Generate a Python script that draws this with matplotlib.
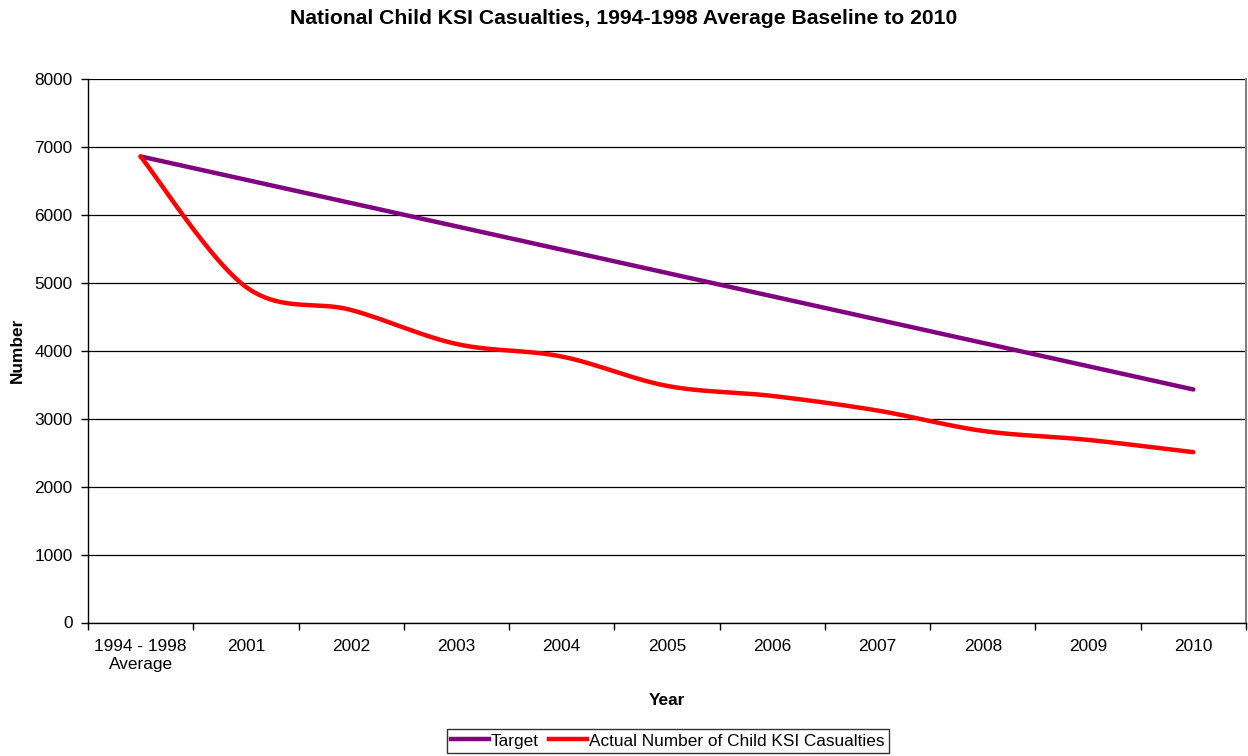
import numpy as np
import matplotlib
matplotlib.use("Agg")
import matplotlib.pyplot as plt
from matplotlib.lines import Line2D

plt.rcParams['font.family'] = ['Liberation Sans', 'DejaVu Sans']

categories = ["1994 - 1998\nAverage", "2001", "2002", "2003", "2004", "2005",
              "2006", "2007", "2008", "2009", "2010"]
target = [6860, 6517, 6174, 5831, 5488, 5145, 4802, 4459, 4116, 3773, 3430]
actual = [6860, 4940, 4600, 4100, 3915, 3483, 3335, 3120, 2820, 2688, 2507]
y_ticks = [0, 1000, 2000, 3000, 4000, 5000, 6000, 7000, 8000]


def smooth(xs, ys, n=40):
    """Excel-style smoothed line: cubic Bezier segments with 1/6 tangents."""
    xs = np.asarray(xs, float)
    ys = np.asarray(ys, float)
    pts = np.column_stack([xs, ys])
    out = [pts[0]]
    t = np.linspace(0, 1, n)[1:, None]
    for i in range(len(pts) - 1):
        p0 = pts[i - 1] if i > 0 else pts[i]
        p1, p2 = pts[i], pts[i + 1]
        p3 = pts[i + 2] if i + 2 < len(pts) else pts[i + 1]
        c1 = p1 + (p2 - p0) / 6.0
        c2 = p2 - (p3 - p1) / 6.0
        seg = ((1 - t) ** 3) * p1 + 3 * ((1 - t) ** 2) * t * c1 \
            + 3 * (1 - t) * t ** 2 * c2 + t ** 3 * p2
        out.extend(seg)
    out = np.array(out)
    return out[:, 0], out[:, 1]


fig = plt.figure(figsize=(12.48, 7.56), dpi=100)
ax = fig.add_axes([88 / 1248, 1 - 622.5 / 756, (1246 - 88) / 1248, (622.5 - 79) / 756])

x = np.arange(len(categories))
ax.plot(x, target, color='#800080', lw=3.2, solid_capstyle='round', zorder=3)
sx, sy = smooth(x, actual)
ax.plot(sx, sy, color='#FF0000', lw=3.2, solid_capstyle='round',
        solid_joinstyle='round', zorder=4)

ax.set_xlim(-0.5, len(categories) - 0.5)
ax.set_ylim(0, 8000)
ax.set_yticks(y_ticks)
ax.set_yticklabels([str(v) for v in y_ticks], fontsize=12.4)
ax.yaxis.grid(True, color='black', lw=0.9)
ax.set_axisbelow(True)

ax.set_xticks(x)
ax.set_xticklabels(categories, fontsize=12.4, linespacing=1.25)
ax.set_xticks(np.arange(-0.5, len(categories)), minor=True)
ax.tick_params(axis='x', which='major', length=0, pad=12)
ax.tick_params(axis='x', which='minor', length=5, width=1, direction='out')
ax.tick_params(axis='y', length=5, width=1, direction='out', pad=6)

for side in ('left', 'bottom'):
    ax.spines[side].set_color('black')
    ax.spines[side].set_linewidth(1)
ax.spines['top'].set_visible(False)
ax.spines['right'].set_color('#808080')
ax.spines['right'].set_linewidth(1.5)

ax.set_xlabel('Year', fontsize=12.4, fontweight='bold', labelpad=15)
ax.set_ylabel('Number', fontsize=12.4, fontweight='bold', labelpad=7)

fig.suptitle('National Child KSI Casualties, 1994-1998 Average Baseline to 2010',
             fontsize=15.2, fontweight='bold', y=1 - 19 / 756, va='center')

handles = [Line2D([], [], color='#800080', lw=3.2),
           Line2D([], [], color='#FF0000', lw=3.2)]
leg = fig.legend(handles, ['Target', 'Actual Number of Child KSI Casualties'],
                 loc='center', bbox_to_anchor=(668 / 1248, 1 - 741 / 756),
                 ncol=2, fontsize=12.4, frameon=True, fancybox=False,
                 edgecolor='black', handlelength=2.2, handletextpad=0.1,
                 columnspacing=0.6, borderpad=0.25, borderaxespad=0)
leg.get_frame().set_linewidth(1)

fig.savefig('out.png', dpi=100)
